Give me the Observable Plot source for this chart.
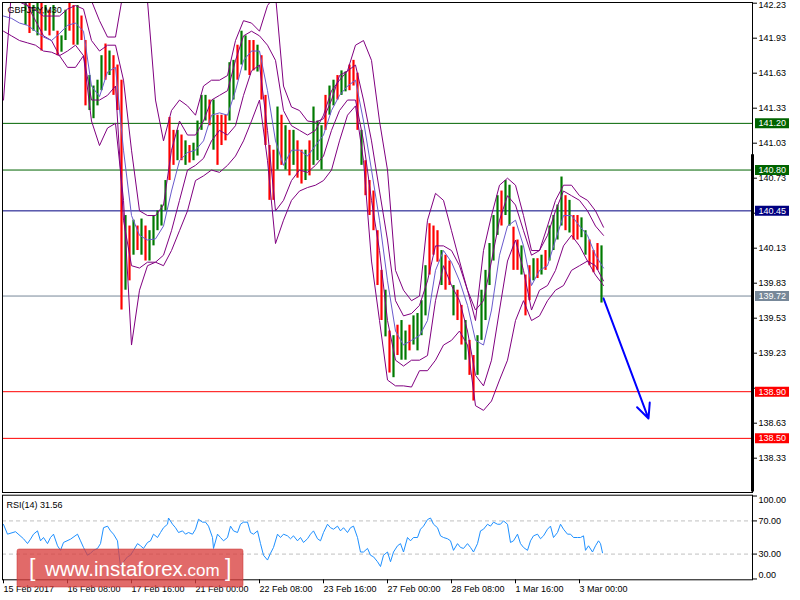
<!DOCTYPE html>
<html><head><meta charset="utf-8">
<script src="https://cdn.jsdelivr.net/npm/d3@7"></script>
<script src="https://cdn.jsdelivr.net/npm/@observablehq/plot@0.6"></script>
<style>
html,body{margin:0;padding:0;background:#fff;}
#chart{position:relative;width:800px;height:600px;overflow:hidden;background:#fff;}
#chart > svg{position:absolute;left:0;}
</style></head><body><div id="chart"></div>
<script>
// ---- candle buckets (each = 4 M30 bars), prices in JPY ----
const barHigh = [142.55,142.50,142.45,142.40,142.34,142.26,142.27,142.21,142.28,142.24,
142.21,142.17,142.21,141.99,141.95,142.17,142.27,142.21,142.21,142.12,
141.91,141.61,141.52,141.57,141.78,141.88,141.82,141.78,141.70,141.57,
140.41,140.32,140.37,140.32,140.38,140.32,140.28,140.41,140.45,140.50,
140.71,141.25,141.14,141.14,141.10,141.05,141.01,141.03,141.22,141.44,
141.44,141.40,141.40,141.27,141.27,141.27,141.72,141.74,141.87,141.99,
141.95,141.91,141.91,141.87,141.78,141.44,141.01,140.97,141.34,141.27,
141.18,141.14,141.14,141.05,140.97,140.97,141.05,141.34,141.22,141.18,
141.44,141.52,141.57,141.61,141.65,141.64,141.70,141.74,141.63,141.14,
140.88,140.71,140.62,140.28,139.94,139.77,139.42,139.38,139.47,139.51,
139.42,139.47,139.55,139.57,139.68,139.98,140.34,140.32,140.28,140.11,
140.07,140.02,139.81,139.77,139.64,139.51,139.34,139.21,139.38,139.77,
139.94,140.17,140.41,140.58,140.62,140.71,140.67,140.31,140.20,140.15,
139.90,139.98,140.04,140.04,140.07,140.11,140.32,140.41,140.50,140.74,
140.58,140.54,140.41,140.41,140.39,140.28,140.20,140.11,140.17,140.15];
const barLow = [142.40,142.36,142.32,142.28,142.24,142.04,141.97,141.99,141.95,141.82,
141.99,141.95,141.99,141.78,141.81,141.91,141.99,141.87,141.87,141.91,
141.35,141.31,141.24,141.35,141.48,141.57,141.61,141.44,141.31,139.60,
139.77,139.85,140.07,140.11,140.07,140.02,140.02,140.15,140.28,140.32,
140.45,140.71,140.84,140.88,140.88,140.84,140.86,140.88,140.92,141.14,
141.22,141.18,140.97,140.84,141.01,141.05,141.22,141.40,141.57,141.70,
141.65,141.61,141.65,141.64,141.40,141.01,140.54,140.54,140.80,140.84,
140.80,140.75,140.84,140.73,140.68,140.71,140.75,140.84,140.88,140.80,
141.14,141.27,141.35,141.40,141.44,141.47,141.48,141.52,141.14,140.84,
140.58,140.41,140.28,139.81,139.51,139.37,139.06,139.02,139.21,139.17,
139.17,139.25,139.30,139.25,139.38,139.55,139.90,140.07,140.01,139.81,
139.77,139.81,139.55,139.51,139.30,139.17,139.04,138.82,139.04,139.34,
139.51,139.81,140.02,140.24,140.32,140.41,140.32,139.94,139.94,139.90,
139.55,139.68,139.85,139.87,139.90,139.94,140.02,140.11,140.20,140.32,
140.28,140.26,140.20,140.20,140.22,140.07,139.98,139.92,139.94,139.66];
const barDir = "dudududuudududuuddudduuuududddudududuuuuuddududuuuududdduuduudduddddudududduduuuduuduudddudddddududuuduuuudddudduddudduuuuuuduudduddududuuuududduudddududdduud";

// ---- indicator lines, one value every 8 bars ----
const bandUpperOuter = [142.51,142.60,142.60,142.60,142.51,142.42,142.42,142.38,142.34,142.34,
142.30,142.25,142.08,141.94,141.94,142.34,142.51,142.42,142.25,141.40,
141.05,141.31,141.40,141.35,141.27,141.52,141.57,141.57,141.61,141.91,
142.08,142.06,141.99,142.21,142.30,141.52,141.34,141.31,141.22,141.21,
141.24,141.40,141.61,141.65,141.87,141.91,141.74,141.22,140.80,139.94,
139.77,139.68,139.72,140.37,140.60,140.54,140.28,140.02,139.77,139.51,
140.11,140.41,140.67,140.73,140.67,140.41,140.11,140.11,140.32,140.54,
140.67,140.67,140.58,140.54,140.45,140.31];
const bandUpperInner = [142.25,142.25,142.24,142.21,142.17,142.12,142.12,142.12,142.18,142.21,
142.18,141.91,141.82,141.87,141.87,141.57,140.97,140.45,140.41,140.41,
140.50,140.97,141.22,141.10,141.10,141.22,141.40,141.44,141.48,141.74,
141.95,141.99,141.95,141.87,141.74,141.31,141.18,141.14,141.10,141.14,
141.27,141.48,141.57,141.65,141.70,141.40,141.05,140.62,140.20,139.68,
139.55,139.57,139.64,139.85,140.15,140.15,140.11,139.98,139.77,139.60,
139.68,140.02,140.37,140.58,140.50,140.28,140.07,140.11,140.24,140.45,
140.62,140.58,140.54,140.45,140.32,140.24];
const bandMiddle = [142.12,142.10,142.06,142.04,141.99,141.94,141.91,141.97,142.04,142.06,
141.99,141.52,141.43,141.64,141.68,140.97,140.41,140.24,140.20,140.21,
140.32,140.62,140.88,140.95,140.97,141.05,141.27,141.29,141.27,141.48,
141.74,141.82,141.82,141.48,141.05,140.84,140.97,140.97,140.92,141.01,
141.10,141.31,141.44,141.52,141.57,141.22,140.80,140.37,139.85,139.42,
139.30,139.34,139.38,139.51,139.94,140.11,140.01,139.85,139.64,139.34,
139.30,139.60,140.07,140.32,140.37,140.15,139.81,139.94,139.98,140.20,
140.41,140.41,140.32,140.24,140.07,139.96];
const bandLowerInner = [141.99,141.95,141.91,141.89,141.87,141.82,141.81,141.78,141.82,141.87,
141.78,141.40,141.40,141.44,141.52,140.37,139.98,139.96,140.01,140.01,
140.07,140.28,140.54,140.80,140.84,140.90,141.05,141.14,141.10,141.18,
141.44,141.65,141.70,141.14,140.45,140.54,140.71,140.80,140.78,140.84,
140.92,141.14,141.31,141.40,141.40,141.05,140.54,140.11,139.51,139.17,
139.12,139.17,139.17,139.21,139.68,139.98,139.81,139.68,139.42,139.04,
138.95,139.17,139.60,140.02,140.20,139.94,139.60,139.77,139.81,139.94,
140.15,140.24,140.15,140.02,139.90,139.81];
const bandLowerOuter = [141.40,142.34,142.30,142.21,142.08,141.95,141.91,141.78,141.68,141.68,
141.78,141.22,141.01,141.16,141.20,140.54,139.30,139.77,139.98,140.01,
139.98,140.11,140.28,140.45,140.71,140.75,140.80,140.78,140.84,140.92,
141.05,141.22,141.40,140.88,140.17,140.37,140.54,140.62,140.65,140.67,
140.71,140.80,141.05,141.27,141.35,140.88,140.02,139.51,139.00,138.95,
138.95,138.94,139.08,139.08,139.17,139.30,139.34,139.42,139.30,138.78,
138.74,138.82,139.00,139.17,139.51,139.68,139.51,139.55,139.68,139.77,
139.81,139.94,139.98,140.02,139.98,139.85];

// ---- RSI(14) ----
const rsiT = [0,4,12,20,24,27,30,34,37,40,44,47,50,54,57,60,67,74,77,80,84,87,90,94,97,100,104,107,110,114,115,117,120,124,127,130,134,137,140,144,147,150,154,157,160,164,165,169,172,175,179,182,185,189,192,195,199,202,205,209,210,214,217,220,224,227,230,234,237,240,244,247,250,254,257,260,264,267,270,274,277,280,284,287,290,294,297,300,304,307,310,314,317,320,324,327,330,334,337,340,344,347,350,354,357,360,364,367,370,374,377,380,384,387,390,394,397,400,404,407,410,414,417,420,424,427,430,434,437,440,444,447,450,454,457,460,464,467,470,474,477,480,484,487,490,494,497,500,504,507,510,514,517,520,524,527,530,534,537,540,544,547,550,554,557,560,564,567,570,574,577,580,582,585,589,592,595,597,599];
const rsiV = [65.7,54,57,48.5,42.7,48,54,58,46,50,42.6,50,54,40,34.5,44,48,54,46,38,28.6,31,34.5,36.8,42.6,61.8,63.7,58,54,46,34.5,15,20.8,26.7,28.6,34.5,42.6,40,36.8,44,46,54,50,56,61.8,66,73.5,66,61.8,56,58,54,56,54,60,72,68.5,68.5,63.7,50,36.8,54,50,46,50,63.7,58,56,66,68.5,68.5,56,54,58,42.6,28.6,22.8,31,38,54,50,54,52,48.5,52,46,50,44,48.5,54,58,48.5,46,56,66,61.8,60,63.7,58,61.8,56,61.8,63.7,50,32.5,32.5,36.8,28.6,26.7,20.8,15,28.6,32.5,20.8,32.5,40,42.6,32.5,50,46,50,50,60,63.7,71.6,73.5,66,61.8,52,50,48.5,46,34.5,42.6,38,36.8,42.6,38,32.5,42.6,58,60,66,63.7,68.5,66,66,70,66,44,46,54,42.6,38,34.5,46,52,54,48.5,52,60,63.7,50,56,66,60,54,54,50,50,50,52,34.5,40,32.5,40,46,42.6,31.56];

// ---- levels, axes ----
const levelPrices = [141.20, 140.80, 140.45, 139.72, 138.90, 138.50];
const levelColors = ["#006400", "#006400", "#000080", "#778899", "#ff0000", "#ff0000"];
const priceTicks = [142.23, 141.93, 141.63, 141.33, 141.03, 140.73, 140.43, 140.13, 139.83, 139.53, 139.23, 138.93, 138.63, 138.33];
const hiddenTickLabels = [142.23, 140.43, 138.93]; // 142.23 drawn separately; the other two sit under level boxes
const timeTicks = [0, 64, 128, 192, 256, 320, 384, 448, 512, 576];
const timeLabels = ["15 Feb 2017", "16 Feb 08:00", "17 Feb 16:00", "21 Feb 00:00", "22 Feb 08:00", "23 Feb 16:00", "27 Feb 00:00", "28 Feb 08:00", "1 Mar 16:00", "3 Mar 00:00"];
const rsiLevels = [70, 30];
const rsiTicks = [100, 70, 30, 0];
const forecastFrom = {t: 600, p: 139.70};
const forecastTo = {t: 645, p: 138.67};
const scaleBar = {from: 140.93, to: 138.04};
const symbolName = "GBPJPY,M30";
const rsiName = "RSI(14) 31.56";

// ---- build rows ----
const bars = barHigh.map((h, k) => ({t: 2 + 4 * k, hi: h, lo: barLow[k], up: barDir[k] === "u"}));
const bands = bandMiddle.map((m, j) => ({t: 8 * j, ou: bandUpperOuter[j], iu: bandUpperInner[j], m, il: bandLowerInner[j], ol: bandLowerOuter[j]}));
const rsiRows = rsiT.map((t, i) => ({t, v: rsiV[i]}));
const levels = levelPrices.map((p, i) => ({p, c: levelColors[i]}));

const FONT = "'Liberation Sans', Arial, sans-serif";
const baseStyle = {background: "transparent", fontFamily: FONT, fontSize: "9px", overflow: "visible", color: "black"};
const purple = "#800080";

const price = Plot.plot({
  width: 800, height: 493,
  marginTop: 2, marginBottom: 1, marginLeft: 2, marginRight: 48,
  x: {domain: [-1, 749], axis: null},
  y: {domain: [138.036, 142.236], axis: null},
  style: baseStyle,
  marks: [
    Plot.ruleY(levels, {y: "p", stroke: "c", strokeWidth: 1}),
    Plot.ruleX(bars, {x: "t", y1: "lo", y2: "hi", stroke: d => d.up ? "#007a00" : "#ff0000", strokeWidth: 2.2, clip: true}),
    Plot.line(bands, {x: "t", y: "ou", stroke: purple, strokeWidth: 1, clip: true}),
    Plot.line(bands, {x: "t", y: "ol", stroke: purple, strokeWidth: 1, clip: true}),
    Plot.line(bands, {x: "t", y: "iu", stroke: purple, strokeWidth: 1, clip: true}),
    Plot.line(bands, {x: "t", y: "il", stroke: purple, strokeWidth: 1, clip: true}),
    Plot.line(bands, {x: "t", y: "m", stroke: "#6a5acd", strokeWidth: 1, clip: true}),
    Plot.arrow([{a: forecastFrom, b: forecastTo}], {x1: d => d.a.t, y1: d => d.a.p, x2: d => d.b.t, y2: d => d.b.p, stroke: "#0000ff", strokeWidth: 2, headLength: 12, headAngle: 50}),
    Plot.frame({stroke: "black"}),
    Plot.ruleX([scaleBar], {x: 749, y1: "from", y2: "to", stroke: "black", strokeWidth: 3}),
    Plot.axisY({anchor: "right", ticks: priceTicks, tickFormat: d => hiddenTickLabels.includes(d) ? "" : d.toFixed(2), tickSize: 4, tickPadding: 2, fontSize: 9, label: null}),
    Plot.text([priceTicks[0]], {y: d => d, text: d => d.toFixed(2), frameAnchor: "right", textAnchor: "start", dx: 6, dy: 2, fontSize: 9}),
    Plot.ruleY(levels, {y: "p", stroke: "c", strokeWidth: 10, insetLeft: 753, insetRight: -37}),
    Plot.text(levels, {y: "p", text: d => d.p.toFixed(2), frameAnchor: "right", textAnchor: "start", dx: 6, fill: "white", fontSize: 9}),
    Plot.text([symbolName], {text: d => d, frameAnchor: "top-left", textAnchor: "start", lineAnchor: "top", dx: 5, dy: 4, fontSize: 9, fill: "black"})
  ]
});
price.style.top = "0px";

const rsi = Plot.plot({
  width: 800, height: 110,
  marginTop: 4.7, marginBottom: 20.7, marginLeft: 2, marginRight: 48,
  x: {domain: [-1, 749], axis: null},
  y: {domain: [-1, 101], axis: null},
  style: baseStyle,
  marks: [
    Plot.ruleY(rsiLevels, {stroke: "#c0c0c0", strokeDasharray: "4,3"}),
    Plot.line(rsiRows, {x: "t", y: "v", stroke: "#1e90ff", strokeWidth: 1}),
    Plot.frame({stroke: "black"}),
    Plot.axisY({anchor: "right", ticks: rsiTicks, tickFormat: d => (d === 70 || d === 30) ? d.toFixed(2) : "", tickSize: 4, tickPadding: 2, fontSize: 9, label: null}),
    Plot.text([100], {y: d => d, text: d => d.toFixed(2), frameAnchor: "right", textAnchor: "start", dx: 6, dy: 4, fontSize: 9}),
    Plot.text([0], {y: d => d, text: d => d.toFixed(2), frameAnchor: "right", textAnchor: "start", dx: 6, dy: -4, fontSize: 9}),
    Plot.axisX({anchor: "bottom", ticks: timeTicks, tickFormat: (d) => timeLabels[timeTicks.indexOf(d)], textAnchor: "start", tickSize: 4, tickPadding: 2, fontSize: 9, label: null}),
    Plot.text([rsiName], {text: d => d, frameAnchor: "top-left", textAnchor: "start", lineAnchor: "top", dx: 4, dy: 6, fontSize: 9})
  ]
});
rsi.style.top = "490px";

const chart = document.getElementById("chart");
chart.appendChild(price);
chart.appendChild(rsi);

// watermark
const ns = "http://www.w3.org/2000/svg";
const wm = document.createElementNS(ns, "svg");
wm.setAttribute("width", 228); wm.setAttribute("height", 40);
wm.style.position = "absolute"; wm.style.left = "16px"; wm.style.top = "548px";
wm.innerHTML = `<rect x="1" y="1" width="226" height="38" rx="2" fill="#d9403f" fill-opacity="0.78" stroke="#c93030" stroke-opacity="0.5"/>
<text x="13" y="28" fill="#fff" font-family="${FONT}" font-size="23" font-weight="300">[</text>
<text x="29" y="28" fill="#fff" font-family="${FONT}" font-size="20.5">www.instaforex<tspan font-size="17">.com</tspan></text>
<text x="209" y="28" fill="#fff" font-family="${FONT}" font-size="23" font-weight="300">]</text>`;
chart.appendChild(wm);
</script></body></html>
